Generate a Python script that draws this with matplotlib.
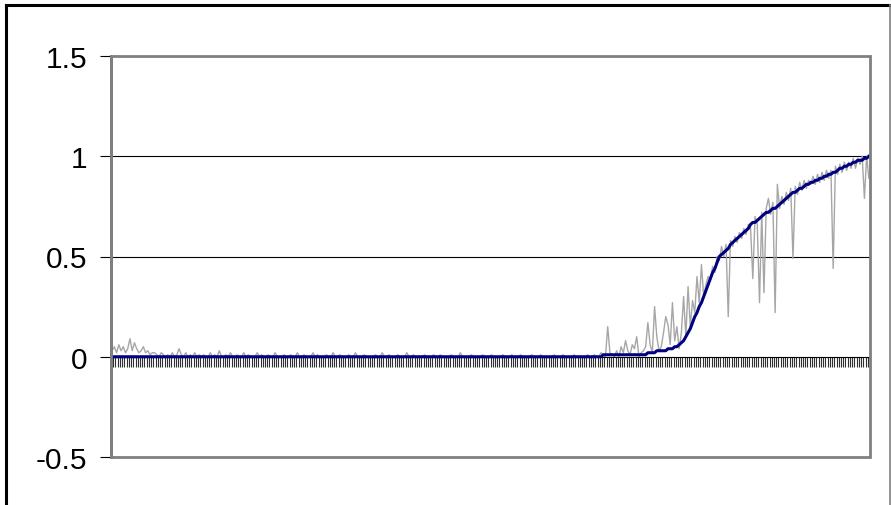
import numpy as np
import matplotlib
matplotlib.use("Agg")
import matplotlib.pyplot as plt
from matplotlib.patches import Rectangle
from matplotlib.lines import Line2D

plt.rcParams['font.family'] = ['Liberation Sans', 'DejaVu Sans']

# raw (noisy) series, one value per category
raw = [
    0.03, 0.05, 0.02, 0.06, 0.03, 0.05, 0.02, 0.04, 0.09, 0.03, 0.07, 0.04, 0.02, 0.03, 0.05, 0.02, 0.03, 0.01, 0.02, 0.02,
    0.01, 0, 0.02, 0.01, 0, 0.01, 0, 0.02, 0, 0.01, 0.04, 0.01, 0, 0.02, 0, 0.01, 0, 0.02, 0, 0.01,
    0, 0.01, 0, 0, 0.02, 0, 0.01, 0, 0.03, 0, 0, 0.01, 0, 0.02, 0, 0, 0.01, 0, 0, 0.02,
    0, 0.01, 0, 0, 0, 0.02, 0, 0.01, 0, 0, 0.01, 0, 0, 0.02, 0, 0, 0, 0.01, 0, 0,
    0.01, 0, 0, 0.02, 0, 0, 0.01, 0, 0, 0, 0.02, 0, 0.01, 0, 0, 0, 0.01, 0, 0, 0.02,
    0, 0, 0.01, 0, 0, 0, 0.01, 0, 0, 0.02, 0, 0, 0, 0.01, 0, 0, 0, 0, 0.01, 0,
    0, 0.02, 0, 0, 0.01, 0, 0, 0, 0.01, 0, 0, 0, 0.02, 0, 0, 0.01, 0, 0, 0, 0,
    0.01, 0, 0, 0, 0.01, 0, 0, 0.01, 0, 0, 0, 0, 0.01, 0, 0, 0, 0.02, 0, 0, 0,
    0, 0.01, 0, 0, 0, 0, 0.01, 0, 0, 0, 0.01, 0, 0, 0, 0, 0.01, 0, 0, 0, 0.01,
    0, 0, 0, 0.01, 0, 0, 0, 0, 0.01, 0, 0, 0, 0.01, 0, 0, 0, 0, 0, 0.01, 0,
    0, 0, 0.01, 0, 0, 0, 0, 0.01, 0, 0, 0, 0, 0, 0.01, 0, 0, 0.01, 0, 0, 0.02,
    0.01, 0, 0.15, 0.02, 0.01, 0, 0.03, 0, 0.05, 0.02, 0.08, 0.03, 0.01, 0.06, 0.04, 0.10, 0, 0.02, 0.03, 0.05,
    0.17, 0.06, 0.02, 0.25, 0.10, 0.03, 0.05, 0.12, 0.20, 0.16, 0.06, 0.27, 0.08, 0.15, 0.04, 0.12, 0.30, 0.10, 0.35, 0.15,
    0.28, 0.22, 0.40, 0.27, 0.46, 0.30, 0.36, 0.40, 0.38, 0.45, 0.42, 0.50, 0.48, 0.55, 0.50, 0.56, 0.20, 0.58, 0.55, 0.60,
    0.57, 0.62, 0.59, 0.64, 0.61, 0.66, 0.64, 0.39, 0.70, 0.66, 0.27, 0.72, 0.32, 0.74, 0.79, 0.71, 0.77, 0.22, 0.86, 0.74,
    0.80, 0.76, 0.82, 0.78, 0.84, 0.49, 0.85, 0.81, 0.87, 0.83, 0.88, 0.84, 0.88, 0.86, 0.90, 0.86, 0.91, 0.87, 0.92, 0.88,
    0.93, 0.89, 0.93, 0.44, 0.95, 0.91, 0.96, 0.92, 0.97, 0.93, 0.97, 0.94, 0.99, 0.94, 0.99, 0.96, 1.0, 0.79, 1.0, 0.89,
]

# smoothed series
smooth = [
    0, 0, 0, 0, 0, 0, 0, 0, 0, 0, 0, 0, 0, 0, 0, 0, 0, 0, 0, 0,
    0, 0, 0, 0, 0, 0, 0, 0, 0, 0, 0, 0, 0, 0, 0, 0, 0, 0, 0, 0,
    0, 0, 0, 0, 0, 0, 0, 0, 0, 0, 0, 0, 0, 0, 0, 0, 0, 0, 0, 0,
    0, 0, 0, 0, 0, 0, 0, 0, 0, 0, 0, 0, 0, 0, 0, 0, 0, 0, 0, 0,
    0, 0, 0, 0, 0, 0, 0, 0, 0, 0, 0, 0, 0, 0, 0, 0, 0, 0, 0, 0,
    0, 0, 0, 0, 0, 0, 0, 0, 0, 0, 0, 0, 0, 0, 0, 0, 0, 0, 0, 0,
    0, 0, 0, 0, 0, 0, 0, 0, 0, 0, 0, 0, 0, 0, 0, 0, 0, 0, 0, 0,
    0, 0, 0, 0, 0, 0, 0, 0, 0, 0, 0, 0, 0, 0, 0, 0, 0, 0, 0, 0,
    0, 0, 0, 0, 0, 0, 0, 0, 0, 0, 0, 0, 0, 0, 0, 0, 0, 0, 0, 0,
    0, 0, 0, 0, 0, 0, 0, 0, 0, 0, 0, 0, 0, 0, 0, 0, 0, 0, 0, 0,
    0, 0, 0, 0, 0, 0, 0, 0, 0, 0, 0, 0, 0, 0, 0, 0, 0, 0, 0, 0,
    0.01, 0.01, 0.01, 0.01, 0.01, 0.01, 0.01, 0.01, 0.01, 0.01, 0.01, 0.01, 0.01, 0.01, 0.01, 0.01, 0.01, 0.01, 0.01, 0.01,
    0.02, 0.02, 0.02, 0.02, 0.03, 0.03, 0.03, 0.03, 0.03, 0.04, 0.04, 0.04, 0.05, 0.05, 0.06, 0.07, 0.08, 0.10, 0.12, 0.14,
    0.17, 0.20, 0.22, 0.25, 0.27, 0.30, 0.33, 0.36, 0.39, 0.42, 0.44, 0.47, 0.50, 0.51, 0.52, 0.53, 0.54, 0.56, 0.57, 0.58,
    0.59, 0.60, 0.61, 0.62, 0.63, 0.64, 0.66, 0.67, 0.67, 0.68, 0.69, 0.70, 0.71, 0.72, 0.72, 0.73, 0.74, 0.74, 0.75, 0.76,
    0.77, 0.78, 0.79, 0.80, 0.81, 0.82, 0.82, 0.83, 0.84, 0.84, 0.85, 0.86, 0.86, 0.87, 0.87, 0.88, 0.88, 0.89, 0.89, 0.90,
    0.90, 0.91, 0.91, 0.92, 0.92, 0.93, 0.94, 0.94, 0.95, 0.95, 0.96, 0.96, 0.97, 0.97, 0.98, 0.98, 0.98, 0.99, 0.99, 1.0,
]

y_ticks = [-0.5, 0, 0.5, 1, 1.5]
y_labels = ["-0.5", "0", "0.5", "1", "1.5"]

n = len(raw)
x = np.arange(n)

fig = plt.figure(figsize=(8.91, 5.06), dpi=100)
ax = fig.add_axes([111 / 891, 48 / 506, 759 / 891, 401 / 506])

# gridlines
for g in [0.5, 1.0]:
    ax.axhline(g, color='black', lw=0.8, zorder=1)

ax.plot(x, raw, color='#a6a6a6', lw=1.0, zorder=2)
ax.plot(x, smooth, color='#000080', lw=2.2, zorder=3)

ax.set_xlim(-0.5, n - 0.5)
ax.set_ylim(-0.5, 1.5)

# x axis runs through y = 0, ticks between categories
ax.spines['bottom'].set_position(('data', 0))
ax.spines['bottom'].set_color('black')
ax.spines['bottom'].set_linewidth(0.8)
ax.spines['top'].set_visible(False)
ax.spines['right'].set_visible(False)
ax.spines['left'].set_color('#6e6e6e')
ax.spines['left'].set_linewidth(2)
ax.set_xticks(np.arange(n + 1) - 0.5)
ax.set_xticklabels([])
ax.tick_params(axis='x', direction='out', length=7.5, width=0.8, color='#303030')

ax.set_yticks(y_ticks, labels=y_labels)
ax.tick_params(axis='y', direction='out', length=8, width=0.8, color='black',
               labelsize=21.5, pad=9)

# plot area frame
ax.add_patch(Rectangle((0, 0), 1, 1, transform=ax.transAxes, fill=False,
                       edgecolor='#808080', lw=2, clip_on=False, zorder=4))

# outer chart border
fig.add_artist(Line2D([5.5 / 891, 5.5 / 891], [0, 1 - 6 / 506], color='black', lw=2.2,
                      transform=fig.transFigure))
fig.add_artist(Line2D([5.5 / 891, 889.5 / 891], [1 - 6 / 506, 1 - 6 / 506], color='black', lw=2.2,
                      transform=fig.transFigure))
fig.add_artist(Line2D([889.5 / 891, 889.5 / 891], [0, 1 - 6 / 506], color='#808080', lw=1.2,
                      transform=fig.transFigure))

plt.savefig('out.png', dpi=100)
